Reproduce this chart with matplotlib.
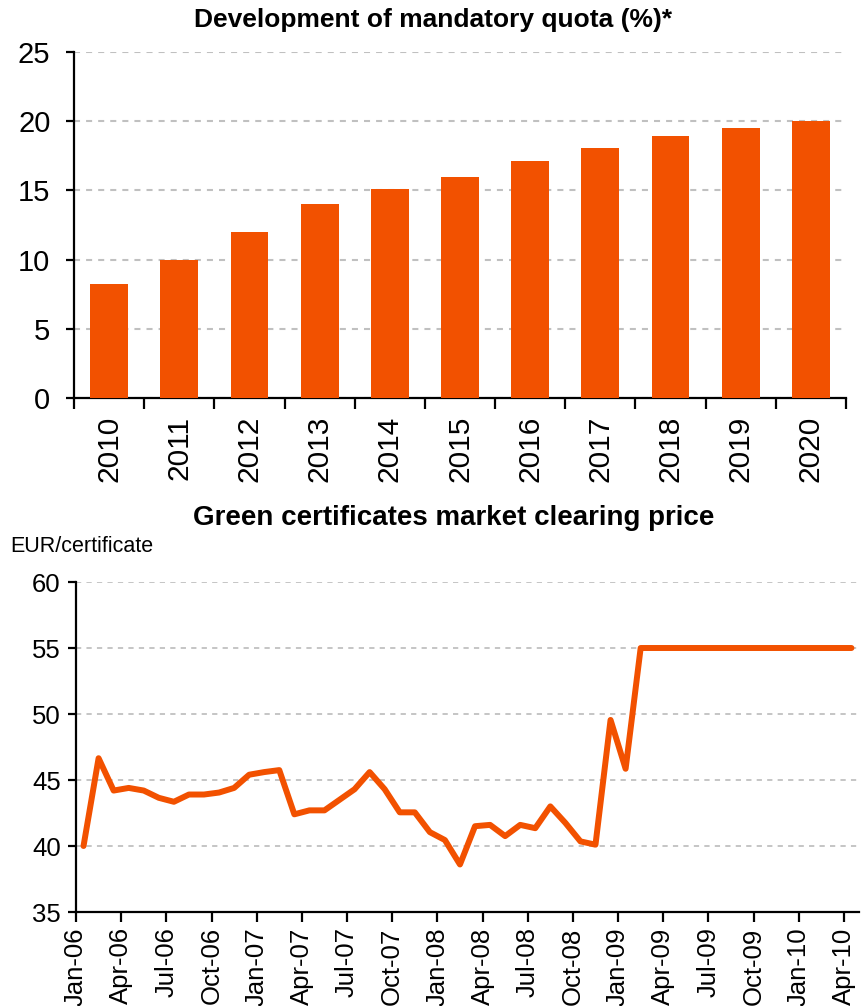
import numpy as np
import matplotlib
matplotlib.use("Agg")
import matplotlib.pyplot as plt

plt.rcParams['font.family'] = ['Liberation Sans', 'DejaVu Sans']

# Mandatory quota by year (%)
years = ['2010', '2011', '2012', '2013', '2014', '2015', '2016', '2017', '2018', '2019', '2020']
quota = [8.25, 10.0, 12.0, 14.0, 15.1, 16.0, 17.1, 18.05, 18.95, 19.5, 20.0]

# Monthly clearing price, Jan-06 .. Apr-10 (EUR/certificate)
price = [40.0, 46.65, 44.2, 44.4, 44.2, 43.65, 43.35, 43.9, 43.9, 44.05, 44.4, 45.4,
         45.6, 45.75, 42.4, 42.7, 42.7, 43.5, 44.3, 45.6, 44.3, 42.55, 42.55, 41.05,
         40.45, 38.6, 41.5, 41.6, 40.75, 41.6, 41.35, 43.0, 41.75, 40.35, 40.1, 49.55,
         45.85, 55.0, 55.0, 55.0, 55.0, 55.0, 55.0, 55.0, 55.0, 55.0, 55.0, 55.0,
         55.0, 55.0, 55.0, 55.0]
month_labels = ['Jan-06', 'Apr-06', 'Jul-06', 'Oct-06', 'Jan-07', 'Apr-07', 'Jul-07',
                'Oct-07', 'Jan-08', 'Apr-08', 'Jul-08', 'Oct-08', 'Jan-09', 'Apr-09',
                'Jul-09', 'Oct-09', 'Jan-10', 'Apr-10']

ORANGE = '#F25100'
GRID = '#C0C0C0'
W, H = 861, 1006

fig = plt.figure(figsize=(W / 100, H / 100), dpi=100)


def style_axes(ax, grid_lw):
    for side in ('top', 'right'):
        ax.spines[side].set_visible(False)
    for side in ('left', 'bottom'):
        ax.spines[side].set_linewidth(1.6)
        ax.spines[side].set_color('black')
    ax.yaxis.grid(True, color=GRID, linewidth=grid_lw, linestyle=(0, (2.9, 2.9)))
    ax.set_axisbelow(True)


# ---- Top: bar chart of mandatory quota ----
ax1 = fig.add_axes([74 / W, 1 - 398 / H, (846 - 74) / W, (398 - 52) / H])
xpos = np.arange(len(years))
ax1.bar(xpos, quota, width=0.54, color=ORANGE, zorder=3)
ax1.set_xlim(-0.5, len(years) - 0.5)
ax1.set_ylim(0, 25)
ax1.set_yticks(np.arange(0, 26, 5))
ax1.set_xticks(np.arange(len(years) + 1) - 0.5)
ax1.set_xticklabels([])
ax1.set_xticks(xpos, minor=True)
ax1.set_xticklabels(years, minor=True, rotation=90, fontsize=21.5)
ax1.tick_params(axis='x', which='major', length=8, width=1.6, direction='out')
ax1.tick_params(axis='x', which='minor', length=0, pad=13)
ax1.tick_params(axis='y', length=6, width=1.6, labelsize=21, pad=11)
style_axes(ax1, 1.5)

fig.text(433 / W, 1 - 20 / H, 'Development of mandatory quota (%)*',
         ha='center', va='center', fontsize=19, fontweight='bold')

# ---- Bottom: line chart of clearing price ----
ax2 = fig.add_axes([76 / W, 1 - 912 / H, (859 - 76) / W, (912 - 582) / H])
months = np.arange(len(price)) + 0.5
ax2.plot(months, price, color=ORANGE, linewidth=4.3, solid_joinstyle='round',
         solid_capstyle='round', zorder=3)
ax2.set_xlim(0, len(price))
ax2.set_ylim(35, 60)
ax2.set_yticks(np.arange(35, 61, 5))
ax2.set_xticks(np.arange(0, len(price), 3))
ax2.set_xticklabels(month_labels, rotation=90, fontsize=18.5)
ax2.tick_params(axis='x', length=7, width=1.6, pad=4)
ax2.tick_params(axis='y', length=6, width=1.6, labelsize=18.5, pad=5)
style_axes(ax2, 1.3)

fig.text(454 / W, 1 - 518 / H, 'Green certificates market clearing price',
         ha='center', va='center', fontsize=20, fontweight='bold')
fig.text(10 / W, 1 - 547 / H, 'EUR/certificate', ha='left', va='center', fontsize=15.5)

fig.savefig('out.png', dpi=100)
